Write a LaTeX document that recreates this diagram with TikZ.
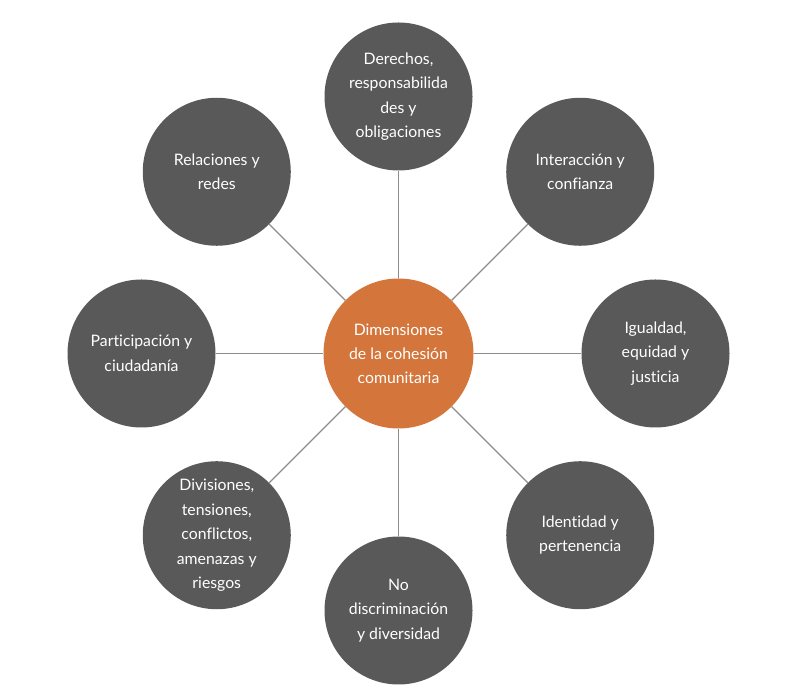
\documentclass[tikz,border=0pt]{standalone}
\usepackage{fontspec}
\setmainfont[Ligatures={NoCommon}]{Lato}
\usetikzlibrary{calc}
\definecolor{darkc}{HTML}{595959}
\definecolor{orangec}{HTML}{D4753B}
\definecolor{linec}{HTML}{8C8C8C}
\begin{document}
\begin{tikzpicture}[x=1pt,y=1pt,
  dim/.style={circle,fill=darkc,minimum size=148pt,inner sep=0pt,text=white,align=center,font=\fontsize{15.8}{24.5}\selectfont},
  hub/.style={circle,fill=orangec,minimum size=150pt,inner sep=0pt,text=white,align=center,font=\fontsize{15.8}{24}\selectfont},
  link/.style={draw=linec,line width=1.3pt}]
\useasboundingbox (0,0) rectangle (800,690);
\fill[white] (0,0) rectangle (800,690);
\coordinate (o) at (398.5,336.5);
\node[hub] (c) at (o) {Dimensiones\\de la cohesión\\comunitaria};
\node[dim] (n) at ($(o)+(90:257)$) {Derechos,\\responsabilida\\des y\\obligaciones};
\node[dim] (ne) at ($(o)+(45:257)$) {Interacción y\\confianza};
\node[dim] (e) at ($(o)+(0:257)$) {Igualdad,\\equidad y\\justicia};
\node[dim] (se) at ($(o)+(-45:257)$) {Identidad y\\pertenencia};
\node[dim] (s) at ($(o)+(-90:257)$) {No\\discriminación\\y diversidad};
\node[dim] (sw) at ($(o)+(-135:257)$) {Divisiones,\\tensiones,\\conflictos,\\amenazas y\\riesgos};
\node[dim] (w) at ($(o)+(180:257)$) {Participación y\\ciudadanía};
\node[dim] (nw) at ($(o)+(135:257)$) {Relaciones y\\redes};
\foreach \t in {n,ne,e,se,s,sw,w,nw} \draw[link] (c) -- (\t);
\end{tikzpicture}
\end{document}
